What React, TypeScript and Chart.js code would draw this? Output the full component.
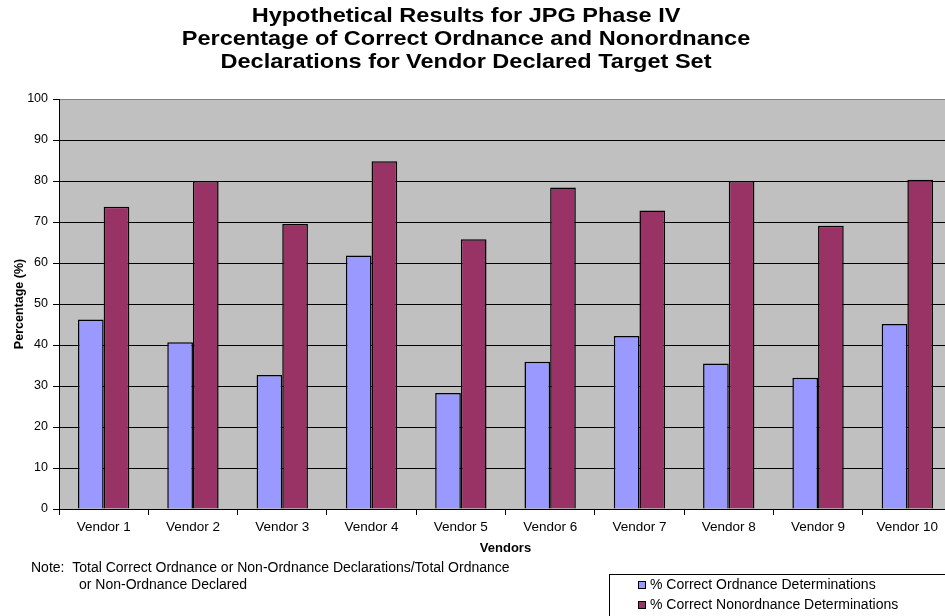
import React, { useEffect, useRef } from "react";
import { Chart, registerables } from "chart.js";

Chart.register(...registerables);

const categories = ["Vendor 1", "Vendor 2", "Vendor 3", "Vendor 4", "Vendor 5", "Vendor 6", "Vendor 7", "Vendor 8", "Vendor 9", "Vendor 10"];
const ordnance = [46.2, 40.7, 32.7, 61.8, 28.3, 35.9, 42.2, 35.5, 32.0, 45.1];
const nonordnance = [73.7, 80.0, 69.5, 84.8, 65.8, 78.4, 72.8, 80.0, 69.1, 80.3];
const seriesNames = ["% Correct Ordnance Determinations", "% Correct Nonordnance Determinations"];
const titleLines = [
  "Hypothetical Results for JPG Phase IV",
  "Percentage of Correct Ordnance and Nonordnance",
  "Declarations for Vendor Declared Target Set",
];
const noteLines = [
  "Note:  Total Correct Ordnance or Non-Ordnance Declarations/Total Ordnance",
  "or Non-Ordnance Declared",
];

const FONT = "'Liberation Sans', Arial, sans-serif";

const extrasPlugin = {
  id: "extras",
  beforeDraw(chart: any) {
    const { ctx, chartArea } = chart;
    ctx.save();
    ctx.fillStyle = "#C0C0C0";
    ctx.fillRect(chartArea.left, chartArea.top, chartArea.right - chartArea.left, chartArea.bottom - chartArea.top);
    ctx.restore();
  },
  afterDraw(chart: any) {
    const { ctx } = chart;
    ctx.save();
    // title
    ctx.fillStyle = "#000";
    ctx.font = `bold 21px ${FONT}`;
    ctx.textAlign = "center";
    ctx.textBaseline = "middle";
    titleLines.forEach((t, i) => {
      ctx.save();
      ctx.translate(466, 16 + i * 23);
      ctx.scale(1.12, 1);
      ctx.fillText(t, 0, 0);
      ctx.restore();
    });
    // note
    ctx.font = `14px ${FONT}`;
    ctx.textAlign = "left";
    ctx.fillText(noteLines[0], 31, 568);
    ctx.fillText(noteLines[1], 79, 585);
    // legend
    ctx.fillStyle = "#fff";
    ctx.fillRect(609.5, 574.5, 400, 60);
    ctx.strokeStyle = "#000";
    ctx.lineWidth = 1;
    ctx.strokeRect(609.5, 574.5, 400, 60);
    chart.data.datasets.forEach((ds: any, i: number) => {
      const y = 585 + i * 20;
      ctx.fillStyle = ds.backgroundColor;
      ctx.fillRect(638.5, y - 3.5, 7, 7);
      ctx.strokeStyle = "#000";
      ctx.strokeRect(638.5, y - 3.5, 7, 7);
      ctx.fillStyle = "#000";
      ctx.font = `14px ${FONT}`;
      ctx.textBaseline = "middle";
      ctx.fillText(ds.label, 650, y);
    });
    ctx.restore();
  },
};

export default function App() {
  const ref = useRef<HTMLCanvasElement>(null);
  useEffect(() => {
    if (!ref.current) return;
    Chart.defaults.font.family = FONT;
    const chart = new Chart(ref.current, {
      type: "bar",
      data: {
        labels: categories,
        datasets: [
          { label: seriesNames[0], data: ordnance, backgroundColor: "#9999FF", borderColor: "#000", borderWidth: 1.5, categoryPercentage: 0.575, barPercentage: 1 },
          { label: seriesNames[1], data: nonordnance, backgroundColor: "#993366", borderColor: "#000", borderWidth: 1.5, categoryPercentage: 0.575, barPercentage: 1 },
        ],
      },
      options: {
        responsive: false,
        animation: false,
        devicePixelRatio: 1,
        layout: { padding: { top: 99, left: 0, right: 8, bottom: 0 } },
        plugins: { legend: { display: false }, title: { display: false }, tooltip: { enabled: false } },
        scales: {
          x: {
            grid: { drawOnChartArea: false, drawTicks: true, tickLength: 6, color: "#000", offset: true },
            border: { color: "#000", width: 1 },
            ticks: { color: "#000", font: { size: 13.5 }, padding: 4, maxRotation: 0, autoSkip: false },
            title: { display: true, text: "Vendors", color: "#000", font: { size: 13, weight: "bold" }, padding: { bottom: 60 } },
            afterFit: (s: any) => { s.height = 107; },
          },
          y: {
            min: 0,
            max: 100,
            ticks: { stepSize: 10, color: "#000", font: { size: 12.5 }, padding: 5 },
            grid: {
              color: (c: any) => (c.tick && c.tick.value === 100 ? "#808080" : "#000"),
              tickColor: "#000",
              tickLength: 6,
            },
            border: { color: "#000", width: 1 },
            title: { display: true, text: "Percentage (%)", color: "#000", font: { size: 12.5, weight: "bold" }, padding: { top: 12 } },
            afterFit: (s: any) => { s.width = 59; },
          },
        },
      },
      plugins: [extrasPlugin],
    });
    return () => chart.destroy();
  }, []);
  return (
    <div style={{ position: "fixed", left: 0, top: 0, width: 945, height: 616, overflow: "hidden", background: "#fff" }}>
      <canvas ref={ref} width={960} height={616} style={{ display: "block" }} />
    </div>
  );
}
